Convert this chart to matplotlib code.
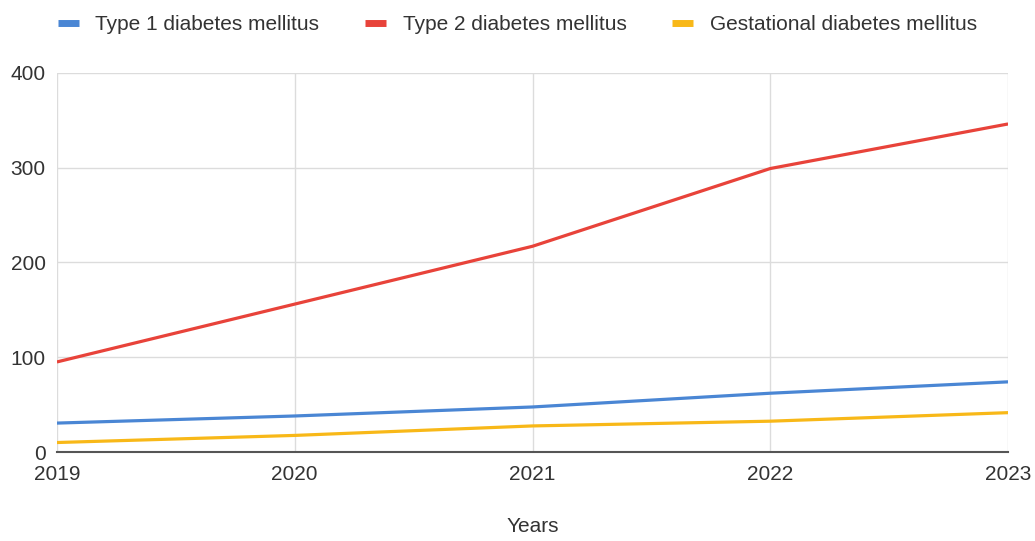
import numpy as np
import matplotlib.pyplot as plt
from matplotlib.lines import Line2D

years = [2019, 2020, 2021, 2022, 2023]
type1 = [30.5, 38, 47.5, 62, 74]
type2 = [95, 156, 217, 299, 346]
gestational = [10, 17.5, 27.5, 32.5, 41.5]

series_names = ["Type 1 diabetes mellitus", "Type 2 diabetes mellitus", "Gestational diabetes mellitus"]
colors = ["#4a86d4", "#e8433a", "#f8b818"]

plt.rcParams['font.family'] = ['Liberation Sans', 'DejaVu Sans']

fig = plt.figure(figsize=(10.35, 5.41), dpi=100)
ax = fig.add_axes([0.055, 0.1645, 0.919, 0.701])

for vals, c in zip([type1, type2, gestational], colors):
    ax.plot(years, vals, color=c, lw=2.3, solid_capstyle='butt', zorder=3)

ax.set_xlim(2019, 2023)
ax.set_ylim(0, 400)
ax.set_xticks(years)
ax.set_yticks([0, 100, 200, 300, 400])
ax.grid(True, color="#dcdcdc", lw=1)
for s in ['top', 'right', 'left']:
    ax.spines[s].set_visible(False)
ax.spines['bottom'].set_color("#555555")
ax.spines['bottom'].set_linewidth(1.5)
ax.tick_params(length=0, labelsize=15, colors="#333333")
ax.tick_params(axis='x', pad=9)
ax.tick_params(axis='y', pad=8)
ax.set_xlabel("Years", fontsize=15, color="#333333", labelpad=24)

handles = [Line2D([], [], color=c, lw=5, solid_capstyle='butt') for c in colors]
fig.legend(handles, series_names, loc='center', bbox_to_anchor=(0.5, 0.955), ncol=3,
           frameon=False, fontsize=15, handlelength=1.0, handletextpad=0.8,
           columnspacing=2.2, labelcolor="#333333")

fig.savefig("out.png", dpi=100, facecolor="white")
